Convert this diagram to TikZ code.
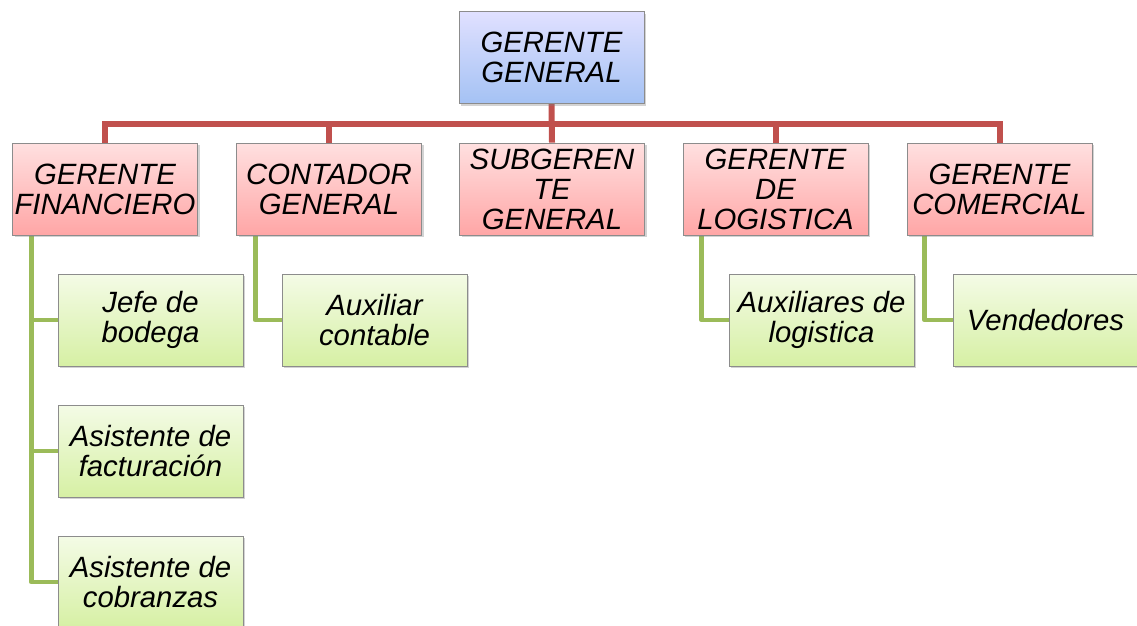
\documentclass[tikz,border=0pt]{standalone}
\usepackage{fontspec}
\setmainfont{Liberation Sans}
\usepackage{tikz}
\usetikzlibrary{shadows,backgrounds}

\definecolor{redline}{RGB}{192,80,77}
\definecolor{greenline}{RGB}{155,187,89}
\definecolor{boxline}{RGB}{140,140,140}

\tikzset{
  box/.style={draw=boxline,line width=0.6pt,minimum width=138.75pt,minimum height=69pt,
    inner sep=0pt,align=center,font=\fontsize{22}{22.5}\selectfont\itshape,
    drop shadow={shadow xshift=1.5pt,shadow yshift=-1.5pt,opacity=0.35,fill=gray}},
  bluebox/.style={box,top color=blue!12!white,bottom color={rgb,255:red,164;green,194;blue,244}},
  redbox/.style={box,top color={rgb,255:red,255;green,224;blue,224},bottom color={rgb,255:red,255;green,166;blue,166}},
  greenbox/.style={box,top color={rgb,255:red,244;green,251;blue,230},bottom color={rgb,255:red,214;green,240;blue,164}},
  redcon/.style={draw=redline,line width=4.5pt},
  greencon/.style={draw=greenline,line width=3.6pt,line join=round}
}

\begin{document}
\begin{tikzpicture}[x=0.75pt,y=0.75pt,yscale=-1,xscale=1]
\useasboundingbox (0,0) rectangle (1137,625);

% Top box
\node[bluebox] (gg) at (551.5,57.5) {GERENTE\\GENERAL};
\coordinate (bar) at (552,124);

% Red level
\node[redbox] (gf) at (105,189) {GERENTE\\FINANCIERO};
\node[redbox] (cg) at (329,189) {CONTADOR\\GENERAL};
\node[redbox] (sg) at (552,189) {SUBGEREN\\TE\\GENERAL};
\node[redbox] (gl) at (775.5,189) {GERENTE\\DE\\LOGISTICA};
\node[redbox] (gc) at (999.5,189) {GERENTE\\COMERCIAL};

% Green level
\node[greenbox] (jb) at (150.5,320) {Jefe de\\bodega};
\node[greenbox] (af) at (150.5,451) {Asistente de\\facturación};
\node[greenbox] (ac) at (150.5,582) {Asistente de\\cobranzas};
\node[greenbox] (ax) at (374.5,320) {Auxiliar\\contable};
\node[greenbox] (al) at (821.5,320) {Auxiliares de\\logistica};
\node[greenbox] (ve) at (1045.5,320) {Vendedores};

\begin{scope}[on background layer]
% Red connectors
\draw[redcon] (gf.north) -- (gf.north |- bar) -- (gc.north |- bar) -- (gc.north);
\draw[redcon] (gg.south) -- (sg.north);
\draw[redcon] (cg.north) -- (cg.north |- bar);
\draw[redcon] (gl.north) -- (gl.north |- bar);

% Green connectors
\draw[greencon] ([xshift=19pt*0.75]gf.south west) |- (jb.west);
\draw[greencon] ([xshift=19pt*0.75]gf.south west) |- (af.west);
\draw[greencon] ([xshift=19pt*0.75]gf.south west) |- (ac.west);
\draw[greencon] ([xshift=19pt*0.75]cg.south west) |- (ax.west);
\draw[greencon] ([xshift=19pt*0.75]gl.south west) |- (al.west);
\draw[greencon] ([xshift=18pt*0.75]gc.south west) |- (ve.west);
\end{scope}

\end{tikzpicture}
\end{document}
